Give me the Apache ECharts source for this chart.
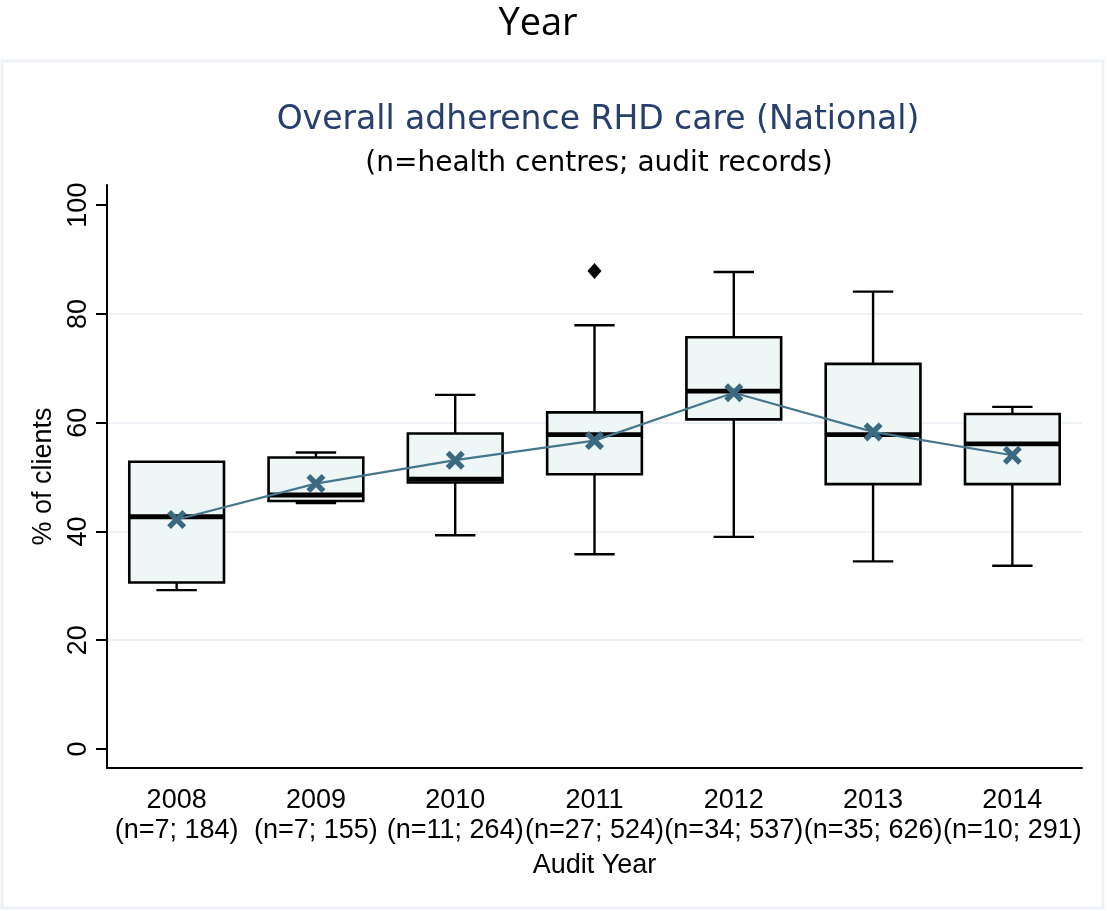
<!DOCTYPE html>
<html>
<head>
<meta charset="utf-8">
<script src="https://cdn.jsdelivr.net/npm/echarts@6/dist/echarts.min.js"></script>
<style>
  html, body { margin: 0; padding: 0; background: #ffffff; }
  #chart { width: 1107px; height: 911px; }
</style>
</head>
<body>
<div id="chart"></div>
<script>
// Audit years and their sample sizes (health centres; audit records)
var years = ['2008', '2009', '2010', '2011', '2012', '2013', '2014'];
var sampleLabels = ['(n=7; 184)', '(n=7; 155)', '(n=11; 264)', '(n=27; 524)', '(n=34; 537)', '(n=35; 626)', '(n=10; 291)'];

// Box plot statistics, % of clients with adherent care
var whiskerLow  = [29.2, 45.2, 39.3, 35.8, 39.0, 34.5, 33.7];
var quartile1   = [30.6, 45.6, 49.0, 50.5, 60.6, 48.7, 48.7];
var medians     = [42.7, 46.7, 49.6, 57.8, 65.8, 57.8, 56.1];
var quartile3   = [52.8, 53.6, 58.0, 61.9, 75.7, 70.8, 61.6];
var whiskerHigh = [52.8, 54.5, 65.1, 77.9, 87.7, 84.1, 62.9];

// Yearly means (joined by a line)
var means = [42.2, 48.8, 53.1, 56.7, 65.5, 58.3, 54.0];

// Outside values: [year index, value]
var outliers = [[3, 87.9]];

// Y axis tick values and the interior grid lines
var yTicks = [0, 20, 40, 60, 80, 100];
var yGridLines = [20, 40, 60, 80];

var axisFont = '"Liberation Sans Narrow", "Arial Narrow", "Liberation Sans", sans-serif';

var boxData = years.map(function (y, i) {
  return [i, whiskerLow[i], quartile1[i], medians[i], quartile3[i], whiskerHigh[i]];
});

function renderBox(params, api) {
  var xi = api.value(0);
  var band = api.size([1, 0])[0];
  var halfBox = band * 0.34;
  var halfCap = band * 0.145;
  var pLow = api.coord([xi, api.value(1)]);
  var pQ1 = api.coord([xi, api.value(2)]);
  var pMed = api.coord([xi, api.value(3)]);
  var pQ3 = api.coord([xi, api.value(4)]);
  var pHigh = api.coord([xi, api.value(5)]);
  var cx = pLow[0];
  var lineStyle = { stroke: '#000000', lineWidth: 2.4 };
  var children = [];
  // whiskers
  children.push({ type: 'line', shape: { x1: cx, y1: pQ1[1], x2: cx, y2: pLow[1] }, style: lineStyle });
  children.push({ type: 'line', shape: { x1: cx, y1: pQ3[1], x2: cx, y2: pHigh[1] }, style: lineStyle });
  // box
  children.push({
    type: 'rect',
    shape: { x: cx - halfBox, y: pQ3[1], width: halfBox * 2, height: pQ1[1] - pQ3[1] },
    style: { fill: '#eef6f6', stroke: '#000000', lineWidth: 2.6 }
  });
  // median
  children.push({ type: 'line', shape: { x1: cx - halfBox, y1: pMed[1], x2: cx + halfBox, y2: pMed[1] }, style: { stroke: '#000000', lineWidth: 4.8 } });
  // caps
  if (api.value(1) < api.value(2)) {
    children.push({ type: 'line', shape: { x1: cx - halfCap, y1: pLow[1], x2: cx + halfCap, y2: pLow[1] }, style: lineStyle });
  }
  if (api.value(5) > api.value(4)) {
    children.push({ type: 'line', shape: { x1: cx - halfCap, y1: pHigh[1], x2: cx + halfCap, y2: pHigh[1] }, style: lineStyle });
  }
  return { type: 'group', children: children };
}

var crossPath = 'path://M0,2 L2,0 L5,3 L8,0 L10,2 L7,5 L10,8 L8,10 L5,7 L2,10 L0,8 L3,5 Z';

var chart = echarts.init(document.getElementById('chart'), null, { renderer: 'canvas' });

chart.setOption({
  animation: false,
  backgroundColor: '#ffffff',
  graphic: [{
    type: 'rect',
    shape: { x: 2, y: 61, width: 1101, height: 847 },
    style: { fill: 'none', stroke: '#eef2f7', lineWidth: 3 },
    z: -10
  }],
  title: [
    {
      text: 'Year',
      left: 533, top: 0, textAlign: 'center',
      textStyle: { fontFamily: '"Open Sans", sans-serif', fontSize: 38, fontWeight: 'normal', color: '#000000' }
    },
    {
      text: 'Overall adherence RHD care (National)',
      left: 593, top: 99, textAlign: 'center',
      textStyle: { fontFamily: '"DejaVu Sans", sans-serif', fontSize: 33, fontWeight: 'normal', color: '#263f6c' }
    },
    {
      text: '(n=health centres; audit records)',
      left: 594, top: 145, textAlign: 'center',
      textStyle: { fontFamily: '"DejaVu Sans", sans-serif', fontSize: 28, fontWeight: 'normal', color: '#000000' }
    }
  ],
  grid: { left: 107, right: 25, top: 185, bottom: 143, containLabel: false },
  xAxis: {
    type: 'category',
    data: years,
    boundaryGap: true,
    name: 'Audit Year',
    nameLocation: 'middle',
    nameGap: 73,
    nameTextStyle: { fontFamily: axisFont, fontSize: 27, color: '#000000', lineHeight: 30 },
    axisLine: { onZero: false, lineStyle: { color: '#000000', width: 2 } },
    axisTick: { alignWithLabel: true, length: 10, lineStyle: { color: '#000000', width: 2 } },
    axisLabel: {
      interval: 0,
      margin: 18,
      fontFamily: axisFont, fontSize: 27, color: '#000000', lineHeight: 30,
      formatter: function (v, i) { return v + '\n' + sampleLabels[i]; }
    },
    splitLine: { show: false }
  },
  yAxis: {
    type: 'value',
    min: -3.5,
    max: 103.7,
    name: '% of clients',
    nameLocation: 'middle',
    nameGap: 45,
    nameTextStyle: { fontFamily: axisFont, fontSize: 27, color: '#000000' },
    axisLine: { show: true, onZero: false, lineStyle: { color: '#000000', width: 2 } },
    axisTick: { show: true, length: 11, customValues: yTicks, lineStyle: { color: '#000000', width: 2 } },
    axisLabel: { rotate: 90, margin: 15, customValues: yTicks, fontFamily: axisFont, fontSize: 27, color: '#000000' },
    splitLine: { show: false }
  },
  series: [
    {
      type: 'custom',
      name: 'box',
      renderItem: renderBox,
      data: boxData,
      encode: { x: 0, y: [1, 2, 3, 4, 5] },
      z: 2,
      silent: true,
      markLine: {
        silent: true,
        symbol: 'none',
        label: { show: false },
        lineStyle: { color: '#eef2f7', width: 2, type: 'solid' },
        data: yGridLines.map(function (v) { return { yAxis: v }; }),
        z: 0
      }
    },
    {
      type: 'line',
      name: 'mean',
      data: means,
      symbol: crossPath,
      symbolSize: 19,
      itemStyle: { color: '#3b6a80' },
      lineStyle: { color: '#46778d', width: 2.2 },
      z: 5
    },
    {
      type: 'scatter',
      name: 'outside values',
      data: outliers,
      symbol: 'diamond',
      symbolSize: [14, 16],
      itemStyle: { color: '#000000', opacity: 1 },
      z: 5
    }
  ]
});
</script>
</body>
</html>
